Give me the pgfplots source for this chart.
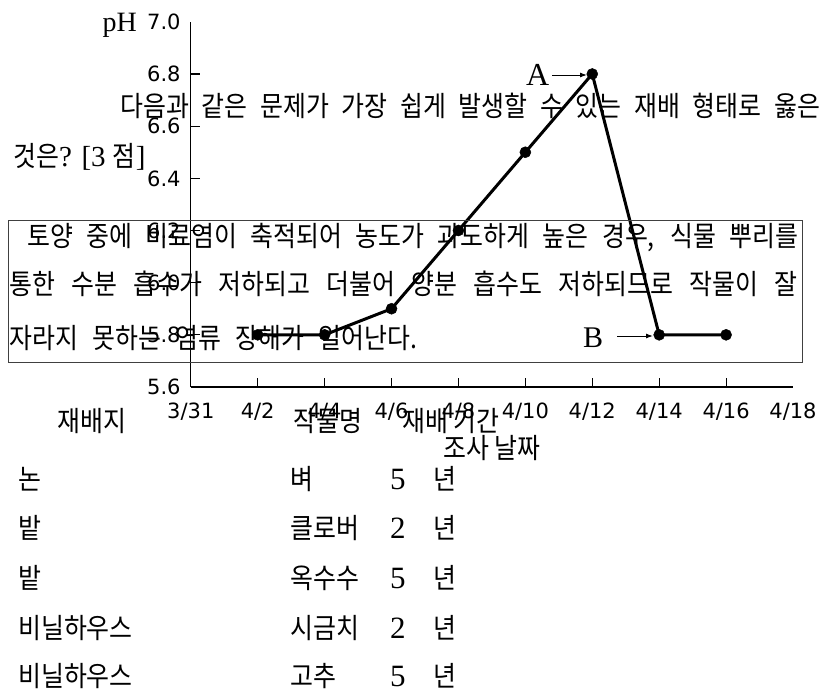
\documentclass[border=0pt]{standalone}
\usepackage{pgfplots}
\pgfplotsset{compat=1.18}
\usepackage{fontspec}
\usetikzlibrary{arrows.meta}
\setmainfont{Liberation Serif}
\newfontfamily\cjk[FakeStretch=0.89]{Noto Sans CJK KR}
\newfontfamily\tickfont{DejaVu Sans}
\newcommand\ksize{\fontsize{28bp}{32bp}\selectfont}
\begin{document}
\begin{tikzpicture}
\useasboundingbox (0,0) rectangle (828bp,-691bp);
\begin{axis}[
  at={(190.8bp,-387bp)}, anchor=south west,
  scale only axis, width=602.2bp, height=365.2bp,
  xmin=0, xmax=18, ymin=5.6, ymax=7.0,
  clip=false,
  axis lines=left, axis line style={-, line width=1.3bp, black},
  tick align=inside, major tick length=9bp,
  tick style={black, line width=1.1bp},
  xtick={2,4,...,16}, xticklabels={4/2,4/4,4/6,4/8,4/10,4/12,4/14,4/16},
  extra x ticks={0,18}, extra x tick labels={3/31,4/18},
  extra x tick style={major tick length=0pt},
  ytick={5.8,6.0,6.2,6.4,6.6,6.8}, yticklabels={5.8,6.0,6.2,6.4,6.6,6.8},
  extra y ticks={5.6,7.0}, extra y tick labels={5.6,7.0},
  extra y tick style={major tick length=0pt},
  tick label style={font=\tickfont\fontsize{21bp}{24bp}\selectfont, inner sep=0pt},
  xticklabel style={anchor=base, yshift=-31bp},
  yticklabel style={anchor=base east, xshift=-10bp, yshift=-7.7bp},
  xlabel={조사 날짜},
  ylabel={pH},
  every axis x label/.style={at={(axis description cs:0,0)}, anchor=base west,
     xshift=252.2bp, yshift=-71.5bp, inner sep=0pt, font=\cjk\ksize},
  every axis y label/.style={at={(axis description cs:0,1)}, anchor=base east,
     xshift=-53.8bp, yshift=-9.2bp, inner sep=0pt, font=\fontsize{28bp}{30bp}\selectfont},
]
\addplot[black, line width=3bp, mark=*, mark size=5.5bp,
  mark options={solid, fill=black, line width=0.5bp}]
  coordinates {(2,5.8) (4,5.8) (6,5.9) (8,6.2) (10,6.5) (12,6.8) (14,5.8) (16,5.8)};
\end{axis}

% annotations A and B
\node[anchor=base west, inner sep=0pt] at (526bp,-85bp) {\fontsize{32bp}{34bp}\selectfont A};
\draw[line width=1bp, -{Latex[length=7bp,width=5bp]}] (552bp,-75bp) -- (587bp,-75bp);
\node[anchor=base west, inner sep=0pt] at (583bp,-347bp) {\fontsize{30bp}{32bp}\selectfont B};
\draw[line width=1bp, -{Latex[length=7bp,width=5bp]}] (617bp,-336bp) -- (653bp,-336bp);

% question text
\node[anchor=base west, inner sep=0pt] at (120bp,-116.5bp)
  {\cjk\ksize\makebox[700bp][s]{다음과 같은 문제가 가장 쉽게 발생할 수 있는 재배 형태로 옳은}};
\node[anchor=base west, inner sep=0pt] at (13bp,-166.5bp)
  {\ksize{\cjk 것은}{\fontsize{29bp}{32bp}\selectfont ? [3 }{\cjk 점}{\fontsize{29bp}{32bp}\selectfont ]}};

% boxed passage
\draw[line width=1bp, black!75] (8bp,-220bp) rectangle (802bp,-362bp);
\node[anchor=base west, inner sep=0pt] at (27bp,-246.5bp)
  {\cjk\ksize\makebox[771bp][s]{토양 중에 비료염이 축적되어 농도가 과도하게 높은 경우, 식물 뿌리를}};
\node[anchor=base west, inner sep=0pt] at (9bp,-294.5bp)
  {\cjk\ksize\makebox[788bp][s]{통한 수분 흡수가 저하되고 더불어 양분 흡수도 저하되므로 작물이 잘}};
\node[anchor=base west, inner sep=0pt] at (9bp,-348bp)
  {\cjk\ksize\makebox[408bp][s]{자라지 못하는 염류 장해가 일어난다.}};

% table
\node[anchor=base west, inner sep=0pt] at (57bp,-431.5bp) {\cjk\ksize 재배지};
\node[anchor=base west, inner sep=0pt] at (293bp,-431.5bp) {\cjk\ksize 작물명};
\node[anchor=base west, inner sep=0pt] at (402bp,-431.5bp) {\cjk\ksize 재배 기간};

\foreach \a/\b/\n/\y in {논/벼/5/489, 밭/클로버/2/538, 밭/옥수수/5/588, 비닐하우스/시금치/2/638, 비닐하우스/고추/5/686.5}{
  \node[anchor=base west, inner sep=0pt] at (18bp,-\y bp) {\cjk\ksize \a};
  \node[anchor=base west, inner sep=0pt] at (290bp,-\y bp) {\cjk\ksize \b};
  \node[anchor=base west, inner sep=0pt] at (390bp,-\y bp) {\fontsize{31bp}{34bp}\selectfont \n};
  \node[anchor=base west, inner sep=0pt] at (433bp,-\y bp) {\cjk\ksize 년};
}
\end{tikzpicture}
\end{document}
